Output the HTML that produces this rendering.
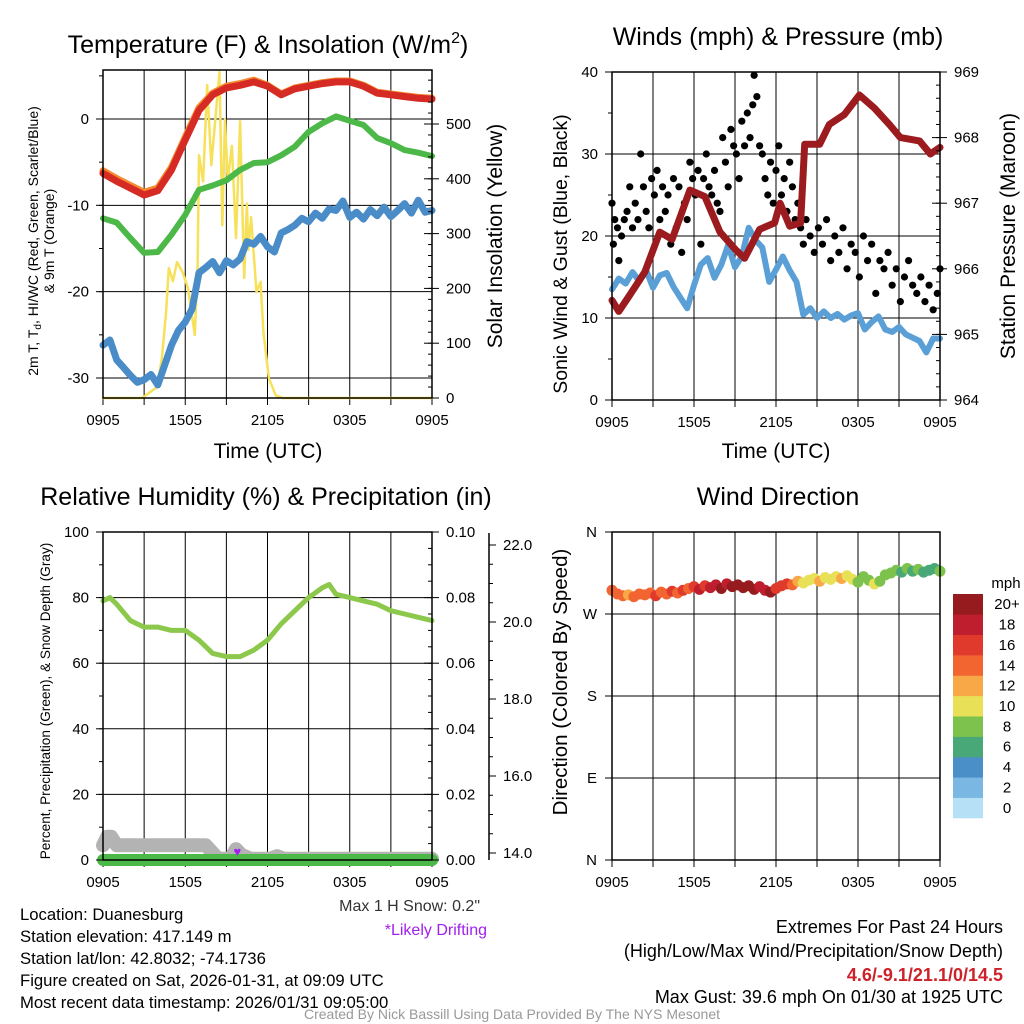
<!DOCTYPE html>
<html><head><meta charset="utf-8"><title>Station Meteogram</title>
<style>
html,body{margin:0;padding:0;background:#fff;}
svg{display:block;font-family:"Liberation Sans",Arial,sans-serif;}
</style></head>
<body>
<svg id="chart" width="1024" height="1024" viewBox="0 0 1024 1024" xmlns="http://www.w3.org/2000/svg">
<rect x="0" y="0" width="1024" height="1024" fill="#fff"/>
<g id="layer"></g>
<g font-size="25" text-anchor="middle" fill="#000">
<text x="268" y="53">Temperature (F) &amp; Insolation (W/m<tspan font-size="16" dy="-10">2</tspan><tspan dy="10">)</tspan></text>
<text x="778" y="45">Winds (mph) &amp; Pressure (mb)</text>
<text x="266" y="505">Relative Humidity (%) &amp; Precipitation (in)</text>
<text x="778" y="505">Wind Direction</text>
</g>
<g font-size="21" text-anchor="middle" fill="#000">
<text x="268" y="458">Time (UTC)</text>
<text x="776" y="458">Time (UTC)</text>
<text transform="translate(502,236) rotate(-90)">Solar Insolation (Yellow)</text>
<text transform="translate(567,254) rotate(-90)" font-size="19.5">Sonic Wind &amp; Gust (Blue, Black)</text>
<text transform="translate(1015,236) rotate(-90)">Station Pressure (Maroon)</text>
<text transform="translate(567,682) rotate(-90)" font-size="20.5">Direction (Colored By Speed)</text>
<text transform="translate(38,241) rotate(-90)" font-size="14">2m T, T<tspan font-size="10" dy="3">d</tspan><tspan dy="-3">, HI/WC (Red, Green, Scarlet/Blue)</tspan></text>
<text transform="translate(54,241) rotate(-90)" font-size="14">&amp; 9m T (Orange)</text>
<text transform="translate(50,701) rotate(-90)" font-size="13.6">Percent, Precipitation (Green), &amp; Snow Depth (Gray)</text>
<text x="1006" y="588" font-size="15">mph</text>
</g>
<g font-size="16.7" fill="#000">
<text x="20" y="920">Location: Duanesburg</text>
<text x="20" y="942">Station elevation: 417.149 m</text>
<text x="20" y="964">Station lat/lon: 42.8032; -74.1736</text>
<text x="20" y="986">Figure created on Sat, 2026-01-31, at 09:09 UTC</text>
<text x="20" y="1008">Most recent data timestamp: 2026/01/31 09:05:00</text>
<text x="480" y="911" font-size="16" text-anchor="end" fill="#333">Max 1 H Snow: 0.2"</text>
<text x="487" y="935" font-size="16" text-anchor="end" fill="#a020f0">*Likely Drifting</text>
<g font-size="18" text-anchor="end">
<text x="1003" y="933">Extremes For Past 24 Hours</text>
<text x="1003" y="957">(High/Low/Max Wind/Precipitation/Snow Depth)</text>
<text x="1003" y="981" fill="#cc2229" font-weight="bold">4.6/-9.1/21.1/0/14.5</text>
<text x="1003" y="1003">Max Gust: 39.6 mph On 01/30 at 1925 UTC</text>
</g>
<text x="512" y="1019" font-size="14" fill="#999" text-anchor="middle">Created By Nick Bassill Using Data Provided By The NYS Mesonet</text>
</g>
</svg>
<script>
// ---------- data ----------
const timeTicks = [0, 6, 12, 18, 24];
const timeTickLabels = ["0905", "1505", "2105", "0305", "0905"];
const hourly = [0,1,2,3,4,5,6,7,8,9,10,11,12,13,14,15,16,17,18,19,20,21,22,23,24];
const halfHourly = [0,0.5,1,1.5,2,2.5,3,3.5,4,4.5,5,5.5,6,6.5,7,7.5,8,8.5,9,9.5,10,10.5,11,11.5,12,12.5,13,13.5,14,14.5,15,15.5,16,16.5,17,17.5,18,18.5,19,19.5,20,20.5,21,21.5,22,22.5,23,23.5,24];

const temp2m = [-6.3,-7.2,-8,-8.8,-8.3,-5.9,-2.4,1,2.8,3.6,3.9,4.3,3.8,2.8,3.5,3.8,4.1,4.3,4.3,3.8,3,2.8,2.6,2.4,2.3];
const temp9m = [-6.0,-6.9,-7.7,-8.5,-8.0,-5.6,-2.1,1.3,3.0,3.8,4.1,4.5,3.9,2.9,3.6,3.9,4.2,4.4,4.4,3.9,3.1,2.9,2.7,2.5,2.4];
const dewpoint = [-11.5,-12,-13.8,-15.5,-15.4,-13.4,-11.1,-8.2,-7.7,-7.1,-5.9,-5.1,-5,-4.2,-3.2,-1.5,-0.5,0.3,-0.2,-0.7,-2.2,-2.8,-3.6,-3.9,-4.3];
const windChill = [-26.2,-25.6,-27.9,-28.8,-29.7,-30.5,-30.2,-29.6,-30.8,-28.5,-26.2,-24.5,-23.5,-22,-17.8,-17.2,-16.5,-17.8,-16.4,-16.9,-16.2,-14.2,-14.5,-13.6,-14.8,-15.4,-13.2,-12.8,-12.3,-11.5,-11.9,-10.9,-11.5,-10.4,-10.6,-9.5,-11.4,-10.8,-11.6,-10.5,-11.2,-10.2,-11.3,-10.6,-9.8,-10.9,-9.4,-10.8,-10.6];
const solarTimes = [0,2.85,3.95,4.3,4.6,4.8,5.1,5.4,5.8,6.2,6.7,6.9,7.0,7.3,7.6,7.9,8.5,8.7,8.9,9.1,9.4,9.7,10.0,10.3,10.5,10.6,10.8,11.2,11.5,11.7,12.1,12.6,13.1,24];
const solarValues = [0,0,20,73,157,237,213,248,230,200,115,240,443,395,571,425,595,315,508,395,460,292,505,219,355,270,330,193,212,120,36,5,0,0];

const sonicWind = [13.5,14.8,14.2,15.6,14.5,15.8,13.7,15.2,15.5,13.8,12.5,11.2,14.0,16.5,17.3,14.9,16.5,18.9,16.2,17.5,21,19.5,18.6,14.4,15.9,17.5,15.8,14.4,10.4,11.2,10.0,10.8,10,10.5,9.8,10.3,10.6,8.6,9.5,10.2,8.6,8.3,8.9,8.0,7.6,7.2,5.8,7.5,7.5];
const gustTimes = [0.0,0.1,0.2,0.4,0.5,0.7,0.9,1.1,1.3,1.5,1.7,1.9,2.1,2.3,2.5,2.7,2.9,3.1,3.3,3.5,3.7,3.9,4.1,4.3,4.5,4.7,4.9,5.1,5.3,5.5,5.7,5.9,6.1,6.3,6.5,6.7,6.9,7.1,7.3,7.5,7.7,7.9,8.1,8.3,8.5,8.7,8.9,9.1,9.3,9.5,9.7,9.9,10.1,10.3,10.4,10.6,10.8,11.0,11.2,11.4,11.6,11.8,12.0,12.2,12.4,12.6,12.8,13.0,13.2,13.4,13.6,13.8,14.0,14.2,14.5,14.8,15.1,15.4,15.7,16.0,16.3,16.6,16.9,17.2,17.5,17.8,18.1,18.4,18.7,19.0,19.3,19.6,19.9,20.2,20.5,20.8,21.1,21.4,21.7,22.0,22.3,22.6,22.9,23.2,23.5,23.8,24.0];
const gustValues = [24,19,22,21,17,20,22,23,26,21,24,22,30,26,23,21,27,25,28,22,26,23,25,19,27,21,26,18,24,22,29,27,25,28,19,27,30,26,25,28,24,23,32,29,26,33,31,30,27,34,31,35,32,36,39.6,37,31,30,27,25,29,24,28,31,25,27,23,29,26,22,24,21,19,22,20,18,21,19,22,17,20,18,21,16,19,18,15,20,17,19,13,17,16,18,14,16,12,15,17,14,13,15,12,14,11,13,16];
const pressureTimes = [0,0.5,1.3,2.4,3.5,4.4,5.7,6.8,7.9,9,9.7,10.8,11.9,12.3,13,13.8,14.1,15.2,15.9,17,18.1,19.2,20.3,21.1,22.5,23.3,24];
const pressureValues = [965.52,965.35,965.6,965.95,966.56,966.45,967.2,967.1,966.56,966.3,966.16,966.6,966.7,967.0,966.65,966.7,967.9,967.9,968.2,968.35,968.65,968.45,968.2,968.0,967.95,967.75,967.85];

const rhTimes = [0,0.5,1,2,3,4,5,6,7,8,9,10,11,12,13,14,15,16,16.5,17,18,19,20,21,22,23,24];
const rhValues = [79,80,78,73,71,71,70,70,67,63,62,62,64,67,72,76,80,83,84,81,80,79,78,76,75,74,73];
const precipValues = [0,0];
const precipTimes = [0,24];
const snowTimes = [0,0.3,0.6,1,7.5,8.4,9.3,9.7,10.1,10.8,12.2,12.7,13.2,24];
const snowValues = [14.2,14.42,14.42,14.2,14.2,13.85,13.85,14.1,13.95,13.85,13.85,13.92,13.85,13.85];
const driftTimes = [9.8];
const driftValues = [14.05];

const dirValues = [296,292,290,291,289,292,291,293,290,294,292,295,293,296,298,300,297,301,299,302,298,303,300,302,299,301,297,300,296,294,298,301,303,302,306,304,307,309,306,310,308,311,309,312,308,305,311,307,303,306,313,315,318,316,320,317,319,316,318,320,317];
const speedValues = [13,14,13,12,14,13,14,13,15,13,14,15,14,15,14,16,17,16,18,17,19,18,19,21,20,22,19,18,17,19,16,15,15,13,11,10,10,9,11,10,9,10,11,9,9,8,7,8,9,7,8,7,8,6,7,6,7,5,6,6,7];
const speedBins = ["0","2","4","6","8","10","12","14","16","18","20+"];
const speedColors = ["#b5e0f5","#7ab8e3","#4a8fc7","#48a877","#7dc24d","#e8e157","#f9a847","#f26430","#e03a2c","#be1e2d","#961b1e"];

// ---------- helpers ----------
const NS = "http://www.w3.org/2000/svg";
const layer = document.getElementById("layer");
function mk(tag, attrs, parent) {
  const e = document.createElementNS(NS, tag);
  for (const k in attrs) e.setAttribute(k, attrs[k]);
  (parent || layer).appendChild(e);
  return e;
}
function lin(d0, d1, r0, r1) { return v => r0 + (v - d0) / (d1 - d0) * (r1 - r0); }
function pathD(xs, ys, sx, sy) {
  return xs.map((x, i) => (i ? "L" : "M") + sx(x).toFixed(1) + "," + sy(ys[i]).toFixed(1)).join("");
}

const P1 = {x0:103, x1:432, y0:70, y1:398};
const P2 = {x0:612, x1:940, y0:72, y1:400};
const P3 = {x0:103, x1:432, y0:532, y1:860};
const P4 = {x0:612, x1:940, y0:532, y1:860};

function frame(P, name, vgrid, hgridY) {
  const g = mk("g", {});
  
  
  const sx = lin(0, 24, P.x0, P.x1);
  vgrid.forEach(h => {
    const l = mk("line", {x1:sx(h), x2:sx(h), y1:P.y0, y2:P.y1, stroke:"#000", "stroke-width":1}, g);
    
    
  });
  hgridY.forEach(y => {
    const l = mk("line", {x1:P.x0, x2:P.x1, y1:y, y2:y, stroke:"#000", "stroke-width":1}, g);
    
    
  });
  const tg = mk("g", {"font-size":15, "text-anchor":"middle"});
  
  
  timeTicks.forEach((h, i) => {
    const t = mk("text", {x:sx(h), y:P.y1 + 27}, tg);
    t.textContent = timeTickLabels[i];
    
    
  });
  [0,3,6,9,12,15,18,21,24].forEach(h => {
    const l = mk("line", {x1:sx(h), x2:sx(h), y1:P.y1, y2:P.y1 + 7, stroke:"#000", "stroke-width":1}, tg);
    
    
  });
  return sx;
}
function border(P, name) {
  const r = mk("rect", {x:P.x0, y:P.y0, width:P.x1 - P.x0, height:P.y1 - P.y0, fill:"none", stroke:"#000", "stroke-width":1.5});
  
  
}
function yAxis(P, x, sy, ticks, labels, minors, side, name, dir) {
  const g = mk("g", {"font-size":15, "text-anchor": side === "left" ? "end" : "start"});
  
  
  const s = side === "left" ? -1 : 1;
  ticks.forEach((v, i) => {
    const y = sy(v);
    const l = mk("line", {x1:x - (dir === "cross" ? 8 * s : 0), x2:x + 7 * s, y1:y, y2:y, stroke:"#000", "stroke-width":1}, g);
    
    
    const t = mk("text", {x:x + 14 * s, y:y + 5}, g);
    t.textContent = labels[i];
    
    
  });
  minors.forEach(v => {
    const y = sy(v);
    const l = mk("line", {x1:x, x2:x - 4 * s * (dir === "cross" ? 1 : -1), y1:y, y2:y, stroke:"#000", "stroke-width":1}, g);
    
    
  });
}
function series(xs, ys, sx, sy, color, w, name, extra) {
  const p = mk("path", Object.assign({d:pathD(xs, ys, sx, sy), fill:"none", stroke:color, "stroke-width":w, "stroke-linejoin":"round", "stroke-linecap":"round"}, extra || {}));
  
  
  return p;
}
function range(a, b, s) { const r = []; for (let v = a; v <= b + 1e-9; v += s) r.push(+v.toFixed(4)); return r; }

// ---------- Panel 1: temperature ----------
(function () {
  const sy = lin(0, -30, 119, 378);
  const syR = lin(0, 500, 398, 124);
  const sx = frame(P1, "temperature-panel", [3,6,9,12,15,18,21], [-30,-20,-10,0].map(sy));
  series(solarTimes, solarValues, sx, syR, "#f7e15a", 2.5, "insolation-line");
  series(hourly, temp9m, sx, sy, "#f58a2e", 7, "temp-9m-line");
  series(hourly, temp2m, sx, sy, "#d62a24", 7, "temp-2m-line");
  series(hourly, dewpoint, sx, sy, "#4cb848", 6, "dewpoint-line");
  series(halfHourly, windChill, sx, sy, "#4a8cc8", 7, "wind-chill-line");
  border(P1, "temperature-panel");
  yAxis(P1, P1.x0, sy, [-30,-20,-10,0], ["-30","-20","-10","0"], range(-30,5,5), "left", "temperature-y-axis", "out");
  yAxis(P1, P1.x1, syR, [0,100,200,300,400,500], ["0","100","200","300","400","500"], range(0,580,20), "right", "insolation-y-axis", "cross");
})();

// ---------- Panel 2: winds ----------
(function () {
  const sy = lin(0, 40, 400, 72);
  const syR = lin(964, 969, 400, 72);
  const sx = frame(P2, "winds-panel", [3,6,9,12,15,18,21], [10,20,30].map(sy));
  series(halfHourly, sonicWind, sx, sy, "#5a9fd6", 6, "sonic-wind-line");
  const g = mk("g", {fill:"#000"});
  
  
  gustTimes.forEach((t, i) => {
    const c = mk("circle", {cx:sx(t), cy:sy(gustValues[i]), r:3.6}, g);
    
    
  });
  series(pressureTimes, pressureValues, sx, syR, "#9b1b1f", 7, "pressure-line");
  border(P2, "winds-panel");
  yAxis(P2, P2.x0, sy, [0,10,20,30,40], ["0","10","20","30","40"], range(0,40,5), "left", "wind-y-axis", "out");
  yAxis(P2, P2.x1, syR, [964,965,966,967,968,969], ["964","965","966","967","968","969"], range(964,969,0.2), "right", "pressure-y-axis", "cross");
})();

// ---------- Panel 3: humidity ----------
(function () {
  const sy = lin(0, 100, 860, 532);
  const syP = lin(0, 0.1, 860, 532);
  const syS = lin(14, 22, 853, 545);
  const sx = frame(P3, "humidity-panel", [3,6,9,12,15,18,21], [20,40,60,80].map(sy));
  series(snowTimes, snowValues, sx, syS, "#b3b3b3", 14, "snow-depth-line");
  series(precipTimes, precipValues, sx, syP, "#4cb848", 12, "precipitation-line");
  series(rhTimes, rhValues, sx, sy, "#8cc84b", 5, "relative-humidity-line");
  driftTimes.forEach((t, i) => {
    const d = mk("text", {x:sx(t), y:syS(driftValues[i]) + 5, fill:"#a020f0", "font-size":13, "text-anchor":"middle"});
    d.textContent = "♥";
    
    
  });
  border(P3, "humidity-panel");
  yAxis(P3, P3.x0, sy, [0,20,40,60,80,100], ["0","20","40","60","80","100"], range(0,100,10), "left", "percent-y-axis", "out");
  yAxis(P3, P3.x1, syP, [0,0.02,0.04,0.06,0.08,0.1], ["0.00","0.02","0.04","0.06","0.08","0.10"], range(0,0.1,0.005), "right", "precip-y-axis", "cross");
  const ax = mk("line", {x1:489, x2:489, y1:533, y2:860, stroke:"#000", "stroke-width":1.5});
  
  
  yAxis(P3, 489, syS, [14,16,18,20,22], ["14.0","16.0","18.0","20.0","22.0"], range(14,22,0.5), "right", "snow-depth-y-axis", "out");
})();

// ---------- Panel 4: wind direction ----------
(function () {
  const sy = lin(0, 360, 860, 532);
  const sx = frame(P4, "direction-panel", [3,6,9,12,15,18,21], [90,180,270].map(sy));
  const g = mk("g", {});
  
  
  const n = dirValues.length;
  dirValues.forEach((d, i) => {
    const bin = Math.max(0, Math.min(10, Math.round(speedValues[i] / 2)));
    const c = mk("circle", {cx:sx(i * 24 / (n - 1)), cy:sy(d), r:5.5, fill:speedColors[bin]}, g);
    
    
  });
  border(P4, "direction-panel");
  const ag = mk("g", {"font-size":15, "text-anchor":"end"});
  
  
  const dl = ["N","E","S","W","N"];
  [0,90,180,270,360].forEach((v, i) => {
    const t = mk("text", {x:597, y:sy(v) + 5}, ag);
    t.textContent = dl[i];
    
    
    const l = mk("line", {x1:605, x2:612, y1:sy(v), y2:sy(v), stroke:"#000"}, ag);
    
    
  });
  const cb = mk("g", {"font-size":15, "text-anchor":"middle"});
  
  
  const h = (818 - 594) / speedBins.length;
  speedBins.forEach((lab, i) => {
    const y = 818 - (i + 1) * h;
    const r = mk("rect", {x:953, y:y, width:30, height:h + 0.3, fill:speedColors[i]}, cb);
    
    
    const t = mk("text", {x:1007, y:y + h / 2 + 5}, cb);
    t.textContent = lab;
    
    
  });
})();
</script>
</body></html>
